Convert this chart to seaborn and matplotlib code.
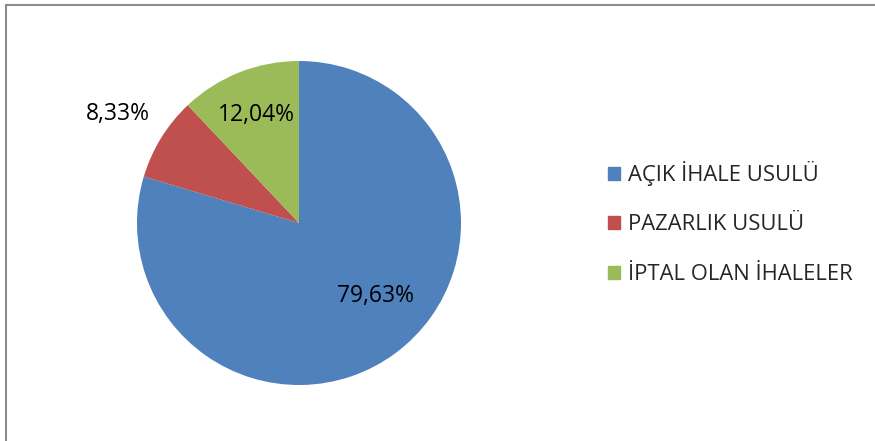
import numpy as np
import matplotlib
matplotlib.use("Agg")
import matplotlib.pyplot as plt
import matplotlib.patches as mpatches
import seaborn as sns

sns.set_style("white")
plt.rcParams['font.family'] = ['Open Sans', 'DejaVu Sans']

# Data
categories = ['AÇIK İHALE USULÜ', 'PAZARLIK USULÜ', 'İPTAL OLAN İHALELER']
shares = [79.63, 8.33, 12.04]
colors = ['#4F81BD', '#C0504D', '#9BBB59']

fig = plt.figure(figsize=(8.75, 4.41), dpi=100)
W, H = 875, 441

# chart frame (Excel-like border)
fig.add_artist(mpatches.Rectangle((6 / W, -0.1), 1.2, 1 - 5 / H + 0.1, transform=fig.transFigure,
                                  fill=False, edgecolor='#8c8c8c', linewidth=1.5))

cx, cy, r = 299, 223, 162
ax = fig.add_axes([(cx - r) / W, (H - cy - r) / H, 2 * r / W, 2 * r / H])

wedges, texts, autotexts = ax.pie(shares, colors=colors, startangle=90, counterclock=False,
                                  autopct=lambda p: f'{p:.2f}%'.replace('.', ','),
                                  pctdistance=0.72, wedgeprops=dict(linewidth=0),
                                  textprops=dict(fontsize=16.5, color='black'))
ax.set_aspect('equal')
ax.set_xlim(-1, 1)
ax.set_ylim(-1, 1)
ax.axis('off')

# label placement like the original
autotexts[0].set_position((0.475, -0.45))
ang = np.deg2rad(90 - 360 * (shares[0] + shares[1] / 2) / 100)
autotexts[1].set_position((1.31 * np.cos(ang), 1.28 * np.sin(ang)))
for t in autotexts:
    t.set_clip_on(False)

handles = [mpatches.Patch(color=c) for c in colors]
fig.legend(handles, categories, loc='center left', bbox_to_anchor=(588 / W, (H - 223) / H),
           frameon=False, fontsize=15.8, handlelength=0.55, handleheight=0.55,
           handletextpad=0.35, labelspacing=1.3)

fig.savefig('out.png', dpi=100)
